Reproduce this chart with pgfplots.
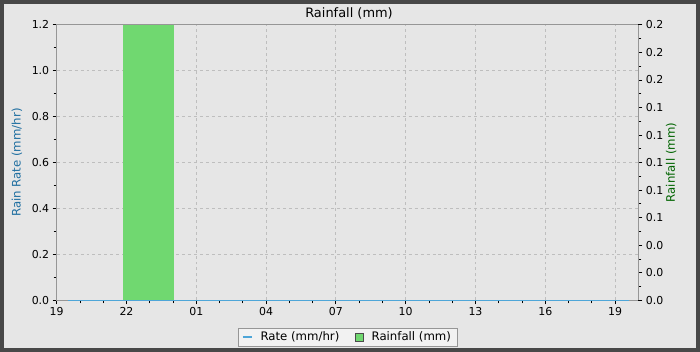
\documentclass[border=0pt]{standalone}
\usepackage{fontspec}
\setmainfont{DejaVu Sans}
\usepackage{pgfplots}
\pgfplotsset{compat=1.18}
\definecolor{bg}{RGB}{230,230,230}
\definecolor{framec}{RGB}{72,72,72}
\definecolor{gridc}{RGB}{190,190,190}
\definecolor{axisc}{RGB}{150,150,150}
\definecolor{ratelab}{RGB}{30,110,160}
\definecolor{rainlab}{RGB}{0,100,0}
\definecolor{barc}{RGB}{112,216,112}
\definecolor{ratec}{RGB}{78,166,216}
\definecolor{legbg}{RGB}{242,242,242}
\begin{document}
\begin{tikzpicture}[x=1pt,y=1pt]
\fill[bg] (0,0) rectangle (700,350);
\draw[line width=4pt, framec] (0,0) rectangle (700,350);
\path[use as bounding box] (0,0) rectangle (700,350);
\node[font=\fontsize{13}{15}\selectfont] at (349,338) {Rainfall (mm)};
\pgfplotsset{
  common/.style={
    at={(55pt,50pt)}, anchor=south west, width=585pt, height=277pt, scale only axis,
    xmin=0, xmax=25,
    axis line style={axisc, line width=1pt}, tick style={black, line width=0.8pt},
    tick align=outside, major tick length=4pt, minor tick length=3pt,
    tick label style={font=\fontsize{11}{13}\selectfont},
    /pgf/number format/assume math mode=true,
  }
}
\begin{axis}[common,
  axis on top,
  ymin=0, ymax=1.2,
  xtick pos=bottom, ytick pos=left,
  xtick={0,3,6,9,12,15,18,21,24},
  xticklabels={19,22,01,04,07,10,13,16,19},
  minor x tick num=2,
  ytick={0,0.2,0.4,0.6,0.8,1.0,1.2},
  yticklabel style={/pgf/number format/fixed,/pgf/number format/precision=1,/pgf/number format/fixed zerofill},
  minor y tick num=1,
  grid=major, major grid style={color=gridc, dash pattern=on 3pt off 3pt, line width=0.8pt},
  ylabel={Rain Rate (mm/hr)},
  every axis y label/.style={at={(rel axis cs:0,0.5)}, xshift=-40pt, rotate=90, anchor=center, color=ratelab, font=\fontsize{11.8}{13}\selectfont},
]
\end{axis}
\begin{axis}[common,
  ymin=0, ymax=0.2,
  axis y line*=right, axis x line=none,
  ytick={0,0.02,0.04,0.06,0.08,0.1,0.12,0.14,0.16,0.18,0.2},
  yticklabels={0.0,0.0,0.0,0.1,0.1,0.1,0.1,0.1,0.2,0.2,0.2},
  minor y tick num=1,
  ylabel={Rainfall (mm)},
  every axis y label/.style={at={(rel axis cs:1,0.5)}, xshift=33pt, rotate=90, anchor=center, color=rainlab, font=\fontsize{11.8}{13}\selectfont},
  legend columns=2,
  legend style={at={(0.5,0)}, anchor=center, yshift=-37pt, draw=axisc, fill=legbg,
    font=\fontsize{11.8}{13}\selectfont, inner xsep=4pt, inner ysep=2pt,
    /tikz/column 1/.style={column sep=6pt},
    /tikz/column 2/.style={column sep=14pt},
    /tikz/column 3/.style={column sep=6pt}},
]
\addlegendimage{legend image code/.code={\draw[ratec, line width=1.6pt] (0pt,0pt) -- (9pt,0pt);}}
\addlegendentry{Rate (mm/hr)}
\addplot[ybar, bar width=2.16, bar shift=0pt, fill=barc, draw=none,
  legend image code/.code={\draw[fill=barc, draw=black!70] (0pt,-4pt) rectangle (8pt,4pt);}]
  coordinates {(3.95,0.2)};
\addlegendentry{Rainfall (mm)}
\addplot[ratec, line width=1.3pt, forget plot] coordinates {
(0.5,0) (1.5,0) (2.5,0) (3.5,0) (4.5,0) (5.5,0) (6.5,0) (7.5,0) (8.5,0) (9.5,0)
(10.5,0) (11.5,0) (12.5,0) (13.5,0) (14.5,0) (15.5,0) (16.5,0) (17.5,0) (18.5,0)
(19.5,0) (20.5,0) (21.5,0) (22.5,0) (23.5,0) (24.6,0)};
\end{axis}
\end{tikzpicture}
\end{document}
